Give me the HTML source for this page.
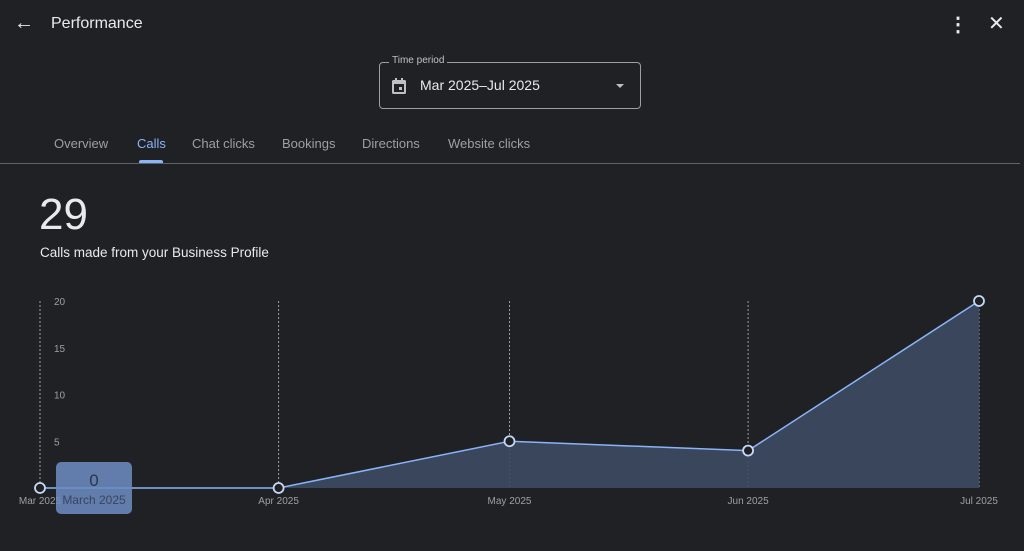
<!DOCTYPE html>
<html><head><meta charset="utf-8"><style>
body{margin:0;width:1024px;height:551px;background:#202124;font-family:"Liberation Sans",sans-serif;color:#e8eaed;overflow:hidden;position:relative}
.a{position:absolute}
.tab{position:absolute;top:136px;font-size:13px;color:#9aa0a6}
</style></head><body>
<div class="a" style="left:14px;top:12px;font-size:20px;color:#e8eaed">&#8592;</div>
<div class="a" style="left:51px;top:15px;font-size:16px">Performance</div>
<div class="a" style="left:948px;top:12px;font-size:20px;font-weight:bold">&#8942;</div>
<div class="a" style="left:988px;top:11px;font-size:20px">&#10005;</div>
<div class="a" style="left:379px;top:62px;width:260px;height:45px;border:1px solid #9aa0a6;border-radius:4px">
 <div class="a" style="left:9px;top:-8px;background:#202124;padding:0 3px;font-size:10px;color:#bdc1c6">Time period</div>
 <svg class="a" style="left:11px;top:14px" width="16" height="18"><rect x="1" y="3" width="14" height="14" rx="1.5" fill="#bdc1c6"/><rect x="3" y="7" width="10" height="8" fill="#202124"/><rect x="8" y="10" width="3" height="3" fill="#bdc1c6"/><rect x="4" y="1" width="2" height="3" fill="#bdc1c6"/><rect x="10" y="1" width="2" height="3" fill="#bdc1c6"/></svg>
 <div class="a" style="left:40px;top:14px;font-size:14px">Mar 2025–Jul 2025</div>
 <div class="a" style="left:236px;top:21px;width:0;height:0;border-left:4px solid transparent;border-right:4px solid transparent;border-top:4px solid #bdc1c6"></div>
</div>
<div class="tab" style="left:54px">Overview</div>
<div class="tab" style="left:137px;color:#8ab4f8">Calls</div>
<div class="a" style="left:139px;top:160px;width:24px;height:3px;background:#8ab4f8;border-radius:2px 2px 0 0"></div>
<div class="tab" style="left:192px">Chat clicks</div>
<div class="tab" style="left:282px">Bookings</div>
<div class="tab" style="left:362px">Directions</div>
<div class="tab" style="left:448px">Website clicks</div>
<div class="a" style="left:0;top:163px;width:1020px;height:1px;background:#5f6368"></div>
<div class="a" style="left:39px;top:190px;font-size:44px;color:#e8eaed">29</div>
<div class="a" style="left:40px;top:245px;font-size:13.5px">Calls made from your Business Profile</div>
<svg class="a" id="chart" style="left:0;top:0" width="1024" height="551"></svg>
<script>
const dates=["2025-03-01","2025-04-01","2025-05-01","2025-06-01","2025-07-01"];
const xLabels=["Mar 2025","Apr 2025","May 2025","Jun 2025","Jul 2025"];
const values=[0,0,5,4,20];
const yTicks=[5,10,15,20];
const svg=document.getElementById('chart');const NS='http://www.w3.org/2000/svg';
const t=dates.map(d=>Date.parse(d));
const x=v=>40+(v-t[0])/(t[t.length-1]-t[0])*939;
const y=v=>488-v/20*187;
function mk(tag,a){const e=document.createElementNS(NS,tag);for(const k in a)e.setAttribute(k,a[k]);svg.appendChild(e);return e;}
t.forEach((tv,i)=>{const g=mk('line',{x1:x(tv),x2:x(tv),y1:301,y2:488,stroke:'#9aa0a6','stroke-dasharray':'2,2','stroke-width':1});


const l=mk('text',{x:x(tv),y:504,'text-anchor':'middle','font-size':10,fill:'#9aa0a6','font-family':'Liberation Sans'});l.textContent=xLabels[i];

});
yTicks.forEach(v=>{const l=mk('text',{x:54,y:y(v)+4,'font-size':10,fill:'#9aa0a6','font-family':'Liberation Sans'});l.textContent=v;

});
const pts=t.map((tv,i)=>x(tv)+','+y(values[i]));
const area=mk('polygon',{points:x(t[0])+','+y(0)+' '+pts.join(' ')+' '+x(t[t.length-1])+','+y(0),fill:'#3c4a63',opacity:0.9});


const line=mk('polyline',{points:pts.join(' '),fill:'none',stroke:'#8ab4f8','stroke-width':1.5});


t.forEach((tv,i)=>{const c=mk('circle',{cx:x(tv),cy:y(values[i]),r:5,fill:'#202124',stroke:'#c6d8f8','stroke-width':1.8});

});
const tt=mk('rect',{x:56,y:462,width:76,height:52,rx:5,fill:'#6f8cc4',opacity:0.85});


const tv=mk('text',{x:94,y:486,'text-anchor':'middle','font-size':17,fill:'#2b3550','font-family':'Liberation Sans'});tv.textContent=values[0];


const tl=mk('text',{x:94,y:504,'text-anchor':'middle','font-size':12,fill:'#3a4560','font-family':'Liberation Sans'});tl.textContent='March 2025';


</script>
</body></html>
